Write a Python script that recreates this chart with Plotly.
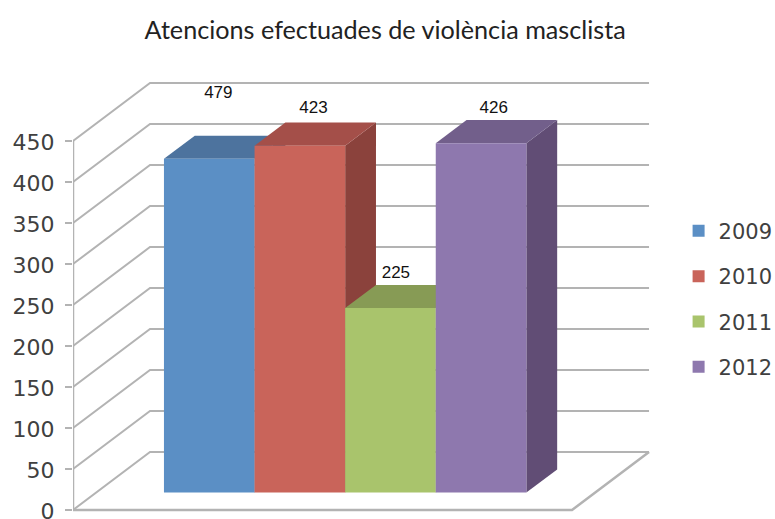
import plotly.graph_objects as go

# ---- data ----
years = ["2009", "2010", "2011", "2012"]
bar_values = [407, 423, 225, 426]
label_values = [479, 423, 225, 426]
tick_values = [0, 50, 100, 150, 200, 250, 300, 350, 400, 450]
title_text = "Atencions efectuades de violència masclista"

# ---- style ----
front_colors = ["#5b8fc5", "#c9645a", "#a9c46c", "#8e78ae"]
top_colors = ["#4d739e", "#a44f49", "#879b55", "#725f8b"]
side_colors = ["#3f6590", "#8b423c", "#6e8046", "#614d75"]
grid_color = "#b3b3b3"
text_color = "#404040"

W, H = 775, 519
L, R, T, B = 73, 115, 70, 5
px_per_cat = 90.6
px_per_val = 0.82
x_wall = -1.504
x_floor_width = 5.508
x_back_width = 5.508
depth_x = 0.85
depth_y = 70.7
d0, d1 = 0.3, 0.7
x_lo, x_hi = x_wall, x_wall + (W - L - R) / px_per_cat
y_lo, y_hi = -4 / px_per_val, 440 / px_per_val
label_dx = [0.10, 0.15, 0.06, 0.14]
label_dy = [7, 45.5, 41.5, 42.5]

fig = go.Figure()


def line(xs, ys, width=2.0):
    fig.add_trace(go.Scatter(x=xs, y=ys, mode="lines", showlegend=False, hoverinfo="skip",
                             line=dict(color=grid_color, width=width)))


# walls and floor
line([x_wall, x_wall], [tick_values[0], tick_values[-1]], 2.5)
for v in tick_values:
    line([x_wall, x_wall + depth_x, x_wall + depth_x + x_back_width],
         [v, v + depth_y, v + depth_y])
line([x_wall, x_wall + x_floor_width, x_wall + x_floor_width + depth_x],
     [0, 0, depth_y], 2.5)

# bar tops and sides, left to right
base = d0 * depth_y
dx = (d1 - d0) * depth_x
dv = (d1 - d0) * depth_y
for i, v in enumerate(bar_values):
    top = base + v
    fig.add_trace(go.Scatter(
        x=[i + .5, i + .5 + dx, i + .5 + dx, i + .5, i + .5],
        y=[base, base + dv, top + dv, top, base],
        mode="lines", fill="toself", fillcolor=side_colors[i], line=dict(width=0),
        showlegend=False, hoverinfo="skip"))
    fig.add_trace(go.Scatter(
        x=[i - .5, i + .5, i + .5 + dx, i - .5 + dx, i - .5],
        y=[top, top, top + dv, top + dv, top],
        mode="lines", fill="toself", fillcolor=top_colors[i], line=dict(width=0),
        showlegend=False, hoverinfo="skip"))

# bar fronts on an overlaid subplot so they sit above the polygons
for i, v in enumerate(bar_values):
    fig.add_trace(go.Bar(x=[i], y=[v], base=[base], width=[1], name=years[i],
                         marker=dict(color=front_colors[i], line=dict(width=0)),
                         legendgroup=years[i], xaxis="x2", yaxis="y2"))

# the 2009 label is drawn at the height of its own value, the others above their bars
label_anchor = [label_values[0]] + bar_values[1:]
fig.add_trace(go.Scatter(
    x=[i + label_dx[i] for i in range(4)],
    y=[label_anchor[i] + base + label_dy[i] for i in range(4)],
    text=[str(v) for v in label_values], mode="text", textposition="middle center",
    textfont=dict(family="Liberation Sans", size=17, color="#111111"),
    showlegend=False, hoverinfo="skip", xaxis="x2", yaxis="y2"))

fig.update_layout(
    width=W, height=H, autosize=False,
    margin=dict(l=L, r=R, t=T, b=B),
    paper_bgcolor="white", plot_bgcolor="white",
    barmode="overlay",
    title=dict(text=title_text, x=0.497, xanchor="center", y=0.942, yanchor="middle",
               font=dict(family="Lato", size=25.2, color="#222222")),
    xaxis=dict(range=[x_lo, x_hi], visible=False, fixedrange=True, automargin=False),
    xaxis2=dict(range=[x_lo, x_hi], visible=False, overlaying="x", fixedrange=True, automargin=False),
    yaxis=dict(range=[y_lo, y_hi], tickvals=tick_values, showgrid=False, zeroline=False,
               showline=False, ticks="outside", ticklen=7, tickwidth=2, tickcolor=grid_color,
               ticklabelstandoff=6, ticklabelshift=1, ticklabeloverflow="allow", automargin=False,
               tickfont=dict(family="DejaVu Sans", size=22, color=text_color), fixedrange=True),
    yaxis2=dict(range=[y_lo, y_hi], visible=False, overlaying="y", fixedrange=True, automargin=False),
    legend=dict(xref="container", yref="container", x=0.8756, xanchor="left",
                y=0.4235, yanchor="middle", tracegroupgap=15,
                font=dict(family="DejaVu Sans", size=21, color=text_color),
                bgcolor="rgba(0,0,0,0)"),
)

fig.write_html("out.html", config={"displayModeBar": False},
               post_script="document.body.style.margin='0';")
